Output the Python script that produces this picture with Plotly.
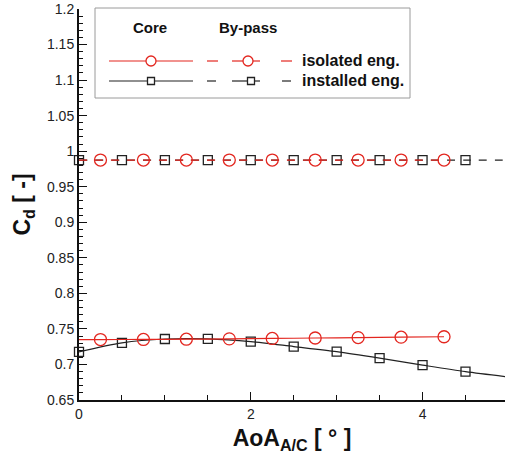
import plotly.graph_objects as go

# ---------------- data ----------------
iso_core_x = [0.0, 0.25, 0.75, 1.25, 1.75, 2.25, 2.75, 3.25, 3.75, 4.25]
iso_core_y = [0.7348, 0.7350, 0.7352, 0.7355, 0.7360, 0.7366, 0.7372, 0.7378, 0.7384, 0.7390]

inst_core_x = [0.0, 0.5, 1.0, 1.5, 2.0, 2.5, 3.0, 3.5, 4.0, 4.5, 5.0]
inst_core_y = [0.7178, 0.7304, 0.7358, 0.7360, 0.7322, 0.7252, 0.7180, 0.7089, 0.6991, 0.6898, 0.6823]

iso_byp_x = [0.0, 0.25, 0.75, 1.25, 1.75, 2.25, 2.75, 3.25, 3.75, 4.25]
iso_byp_y = [0.9875] * 10

inst_byp_x = [0.0, 0.5, 1.0, 1.5, 2.0, 2.5, 3.0, 3.5, 4.0, 4.5, 5.0]
inst_byp_y = [0.9875] * 11

y_ticks = [0.65, 0.7, 0.75, 0.8, 0.85, 0.9, 0.95, 1.0, 1.05, 1.1, 1.15, 1.2]
y_tick_text = ["0.65", "0.7", "0.75", "0.8", "0.85", "0.9", "0.95", "1", "1.05", "1.1", "1.15", "1.2"]
x_ticks = [0, 2, 4]
x_tick_text = ["0", "2", "4"]

RED = "#e3261f"
BLK = "#222222"
FONT = "Liberation Sans, Arial, sans-serif"

fig = go.Figure()


def add_series(xs, ys, color, dash, symbol, msize, marked):
    fig.add_trace(go.Scatter(x=xs, y=ys, mode="lines", line=dict(color=color, width=1.2, dash=dash,
                                                               shape="spline", smoothing=0.8),
                             showlegend=False, hoverinfo="skip"))
    mx = [x for x in xs if marked(x)]
    my = [y for x, y in zip(xs, ys) if marked(x)]
    fig.add_trace(go.Scatter(x=mx, y=my, mode="markers", cliponaxis=False,
                             marker=dict(symbol=symbol, size=msize, color=color,
                                         line=dict(width=1.3, color=color)),
                             showlegend=False))


is_quarter = lambda x: abs((x % 0.5) - 0.25) < 1e-9
is_half = lambda x: abs(x % 0.5) < 1e-9 and x < 4.9

add_series(inst_byp_x, inst_byp_y, BLK, "8px,8px", "square-open", 9, is_half)
add_series(iso_byp_x, iso_byp_y, RED, "8px,8px", "circle-open", 12, is_quarter)
add_series(inst_core_x, inst_core_y, BLK, "solid", "square-open", 9, is_half)
add_series(iso_core_x, iso_core_y, RED, "solid", "circle-open", 12, is_quarter)

# ---------------- layout ----------------
L, R, T, B = 79, 505, 9, 400


def px(v):
    return (v - L) / (R - L)


def py(v):
    return (B - v) / (B - T)


shapes = []
annotations = []
# legend box
shapes.append(dict(type="rect", xref="paper", yref="paper", x0=px(95), x1=px(410), y0=py(98), y1=py(8),
                   line=dict(color="#9a9a9a", width=1), fillcolor="white", layer="above"))


def seg(x0, x1, yv, color):
    shapes.append(dict(type="line", xref="paper", yref="paper", x0=px(x0), x1=px(x1), y0=py(yv), y1=py(yv),
                       line=dict(color=color, width=1.2), layer="above"))


def sym(kind, xc, yc, r, color):
    shapes.append(dict(type=kind, xref="paper", yref="paper", xsizemode="pixel", ysizemode="pixel",
                       xanchor=px(xc), yanchor=py(yc), x0=-r, x1=r, y0=-r, y1=r,
                       line=dict(color=color, width=1.3), fillcolor="white", layer="above"))


# row 1: isolated
seg(109, 193, 61, RED)
sym("circle", 151, 61, 5, RED)
seg(207, 218, 61, RED)
seg(232, 260, 61, RED)
sym("circle", 248, 61, 5, RED)
seg(281, 292, 61, RED)
# row 2: installed
seg(109, 193, 81, BLK)
sym("rect", 151, 81, 3.5, BLK)
seg(207, 216, 81, BLK)
seg(232, 260, 81, BLK)
sym("rect", 251, 81, 3.5, BLK)
seg(282, 291, 81, BLK)

annotations += [
    dict(text="<b>Core</b>", x=px(150), y=py(27), xref="paper", yref="paper", showarrow=False,
         xanchor="center", yanchor="middle", font=dict(size=15, color="#111", family=FONT)),
    dict(text="<b>By-pass</b>", x=px(248), y=py(27), xref="paper", yref="paper", showarrow=False,
         xanchor="center", yanchor="middle", font=dict(size=15, color="#111", family=FONT)),
    dict(text="<b>isolated eng.</b>", x=px(300), y=py(61), xref="paper", yref="paper", showarrow=False,
         xanchor="left", yanchor="middle", font=dict(size=16, color="#111", family=FONT)),
    dict(text="<b>installed eng.</b>", x=px(300), y=py(81), xref="paper", yref="paper", showarrow=False,
         xanchor="left", yanchor="middle", font=dict(size=16, color="#111", family=FONT)),
]

fig.update_layout(
    width=505, height=454,
    margin=dict(l=L, r=505 - R, t=T, b=454 - B),
    paper_bgcolor="white", plot_bgcolor="white",
    font=dict(family=FONT, color="#222"),
    shapes=shapes, annotations=annotations,
    showlegend=False,
)
fig.update_xaxes(
    range=[0, 4.96], showgrid=False, zeroline=False,
    showline=True, linecolor="#111", linewidth=2,
    ticks="inside", ticklen=8, tickwidth=1.2, tickcolor="#111",
    tickvals=x_ticks, ticktext=x_tick_text, tickfont=dict(size=14, color="#222"),
    minor=dict(dtick=0.5, tick0=0, ticks="inside", ticklen=5, tickcolor="#111", tickwidth=1),
    title=dict(text="<b>AoA<sub>A/C</sub> [ ° ]</b>", font=dict(size=23, color="#111"), standoff=12),
)
fig.update_yaxes(
    range=[0.65, 1.2], showgrid=False, zeroline=False,
    showline=True, linecolor="#111", linewidth=2,
    ticks="inside", ticklen=8, tickwidth=1.2, tickcolor="#111",
    tickvals=y_ticks, ticktext=y_tick_text, tickfont=dict(size=14, color="#222"),
    minor=dict(dtick=0.01, tick0=0.65, ticks="inside", ticklen=4, tickcolor="#111", tickwidth=1),
    title=dict(text="<b>C<sub>d</sub> [ -]</b>", font=dict(size=23, color="#111"), standoff=10),
)

fig.write_html("out.html")
